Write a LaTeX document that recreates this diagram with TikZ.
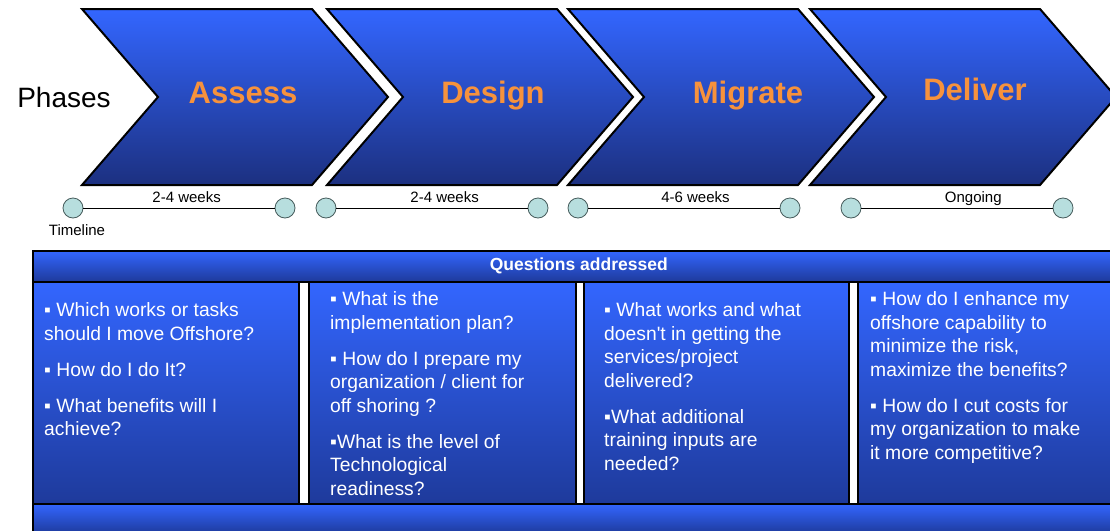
\documentclass[tikz,border=0pt]{standalone}
\usepackage{fontspec}
\setmainfont{Liberation Sans}
\usetikzlibrary{positioning}
\definecolor{chevtop}{RGB}{51,102,255}
\definecolor{chevbot}{RGB}{28,48,128}
\definecolor{colbot}{RGB}{30,58,155}
\definecolor{phaseorange}{RGB}{247,146,60}
\definecolor{dotfill}{RGB}{183,222,222}
\definecolor{dotline}{RGB}{70,92,92}

\begin{document}
\begin{tikzpicture}[
		x=1pt, y=-1pt,
		chevron/.style={draw=black, line width=2pt, top color=chevtop, bottom color=chevbot},
		phase/.style={font=\fontsize{31}{31}\bfseries\selectfont, text=phaseorange, anchor=base},
		dot/.style={circle, draw=dotline, fill=dotfill, minimum size=20pt, inner sep=0pt, line width=0.8pt},
		dur/.style={font=\fontsize{15}{15}\selectfont, anchor=base, yshift=6pt, inner sep=0pt},
		band/.style={draw=black, line width=1.5pt, top color=chevtop, bottom color=colbot, anchor=north west, inner sep=0pt},
		qtext/.style={font=\fontsize{19.3}{23.5}\selectfont, text=white, align=left, anchor=north west, inner sep=0pt}
	]
	\useasboundingbox[fill=white] (0,0) rectangle (1110,530);

	% phase chevrons
	\foreach \x/\name/\lx/\ly/\txt in {82/assess/243/103/Assess, 327/design/493/103/Design, 568/migrate/748/103/Migrate, 810/deliver/975/100/Deliver} {
		\draw[chevron] (\x,9) -- ++(230,0) -- ++(76,88) -- ++(-76,88) -- ++(-230,0) -- ++(76,-88) -- cycle;
		\node[phase] (\name) at (\lx,\ly) {\txt};
	}
	\node[font=\fontsize{28}{28}\selectfont] (phases) at (64,97) {Phases};

	% timeline
	\foreach \a/\b/\p/\txt/\i in {73/285/0.54/2-4 weeks/1, 326/538/0.566/2-4 weeks/2, 578/790/0.56/4-6 weeks/3, 851/1063/0.585/Ongoing/4} {
		\node[dot] (s\i) at (\a,208) {};
		\node[dot] (e\i) at (\b,208) {};
		\draw[line width=1pt] (s\i) -- node[dur, pos=\p] {\txt} (e\i);
	}
	\node[font=\fontsize{15}{15}\selectfont, below=3pt of s1, xshift=4pt] (timeline) {Timeline};

	% questions table
	\node[band, minimum width=1092pt, minimum height=31pt, font=\fontsize{17.5}{17.5}\bfseries\selectfont, text=white] (qhead) at (32,250) {Questions addressed};
	\node[band, minimum width=266pt, minimum height=222pt] (c1) at (32,281) {};
	\node[band, minimum width=267pt, minimum height=222pt] (c2) at (308,281) {};
	\node[band, minimum width=265pt, minimum height=222pt] (c3) at (583,281) {};
	\node[band, minimum width=267pt, minimum height=222pt] (c4) at (857,281) {};
	\node[band, minimum width=1092pt, minimum height=30pt] (qfoot) at (32,503) {};

	\node[qtext] (q1) at ([shift={(12,21.5)}]c1.north west) {▪ Which works or tasks\\should I move Offshore?\\[12.5pt]▪ How do I do It?\\[12.5pt]▪ What benefits will I\\achieve?};
	\node[qtext] (q2) at ([shift={(22,10.5)}]c2.north west) {▪ What is the\\implementation plan?\\[12.5pt]▪ How do I prepare my\\organization / client for\\off shoring ?\\[12.5pt]▪What is the level of\\Technological\\readiness?};
	\node[qtext] (q3) at ([shift={(21,21.5)}]c3.north west) {▪ What works and what\\doesn\textquotesingle t in getting the\\services/project\\delivered?\\[12.5pt]▪What additional\\training inputs are\\needed?};
	\node[qtext] (q4) at ([shift={(13,10.5)}]c4.north west) {▪ How do I enhance my\\offshore capability to\\minimize the risk,\\maximize the benefits?\\[12.5pt]▪ How do I cut costs for\\my organization to make\\it more competitive?};
\end{tikzpicture}
\end{document}
